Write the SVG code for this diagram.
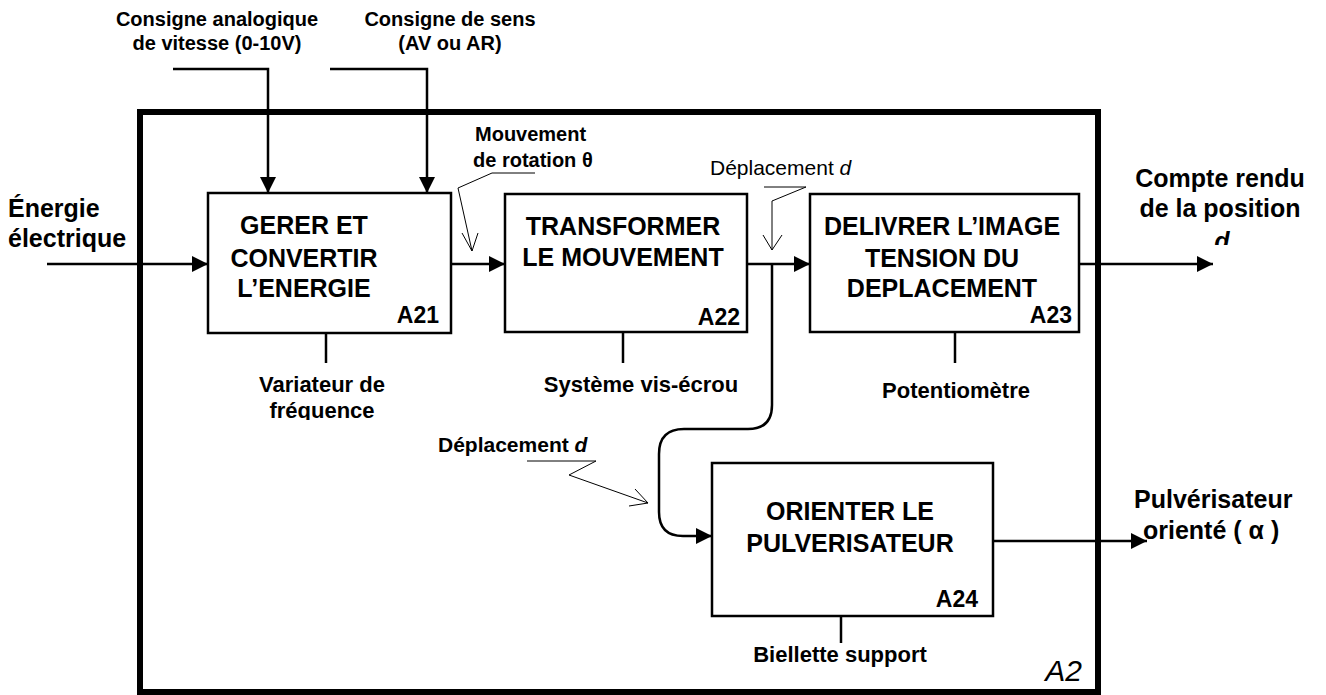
<svg xmlns="http://www.w3.org/2000/svg" width="1326" height="695" viewBox="0 0 1326 695">
<style>
text{font-family:"Liberation Sans",Arial,sans-serif;fill:#000}
.b{font-weight:bold}
.t{font-weight:bold;font-size:25px;text-anchor:middle}
.code{font-weight:bold;font-size:23px;text-anchor:end}
.lab{font-weight:bold;font-size:20px}
.big{font-weight:bold;font-size:25px}
.mech{font-weight:bold;font-size:22px;text-anchor:middle}
.box{fill:#fff;stroke:#000;stroke-width:2.5}
.con{fill:none;stroke:#000;stroke-width:2.5}
.lead{fill:none;stroke:#000;stroke-width:1}
.frame{fill:none;stroke:#000;stroke-width:6}
</style>
<defs>
<marker id="ah" markerUnits="userSpaceOnUse" markerWidth="17" markerHeight="16" refX="16" refY="8" orient="auto">
<path d="M0,0 L16,8 L0,16 z" fill="#000"/>
</marker>
<clipPath id="clipF"><rect x="0" y="0" width="1326" height="420"/></clipPath>
<clipPath id="clipD"><rect x="0" y="0" width="1326" height="245"/></clipPath>
</defs>
<rect width="1326" height="695" fill="#fff"/>
<rect class="frame" x="140" y="112" width="958" height="580"/>
<g id="connectors">
<path class="con" d="M47,264 H208" marker-end="url(#ah)"/>
<path class="con" d="M173,69 H268 V193" marker-end="url(#ah)"/>
<path class="con" d="M330,69 H427 V193" marker-end="url(#ah)"/>
<path class="con" d="M451,264 H505" marker-end="url(#ah)"/>
<path class="con" d="M747,264 H810" marker-end="url(#ah)"/>
<path class="con" d="M772,264 V405 Q772,429 748,429 H684 Q659,429 659,454 V512 Q659,536 683,536 H712" marker-end="url(#ah)"/>
<path class="con" d="M1079,264 H1213" marker-end="url(#ah)"/>
<path class="con" d="M993,541 H1147" marker-end="url(#ah)"/>
<path class="con" d="M326,333 V363"/>
<path class="con" d="M623,332 V363"/>
<path class="con" d="M955,332 V363"/>
<path class="con" d="M841,616 V643"/>
<polyline class="lead" points="535,173 492,173 458,188 472,251"/>
<polyline class="lead" points="462,233 472,251 478,233"/>
<polyline class="lead" points="764,187 806,187 772,201 772,250"/>
<polyline class="lead" points="763,235 772,250 782,235"/>
<polyline class="lead" points="527,461 596,461 569,475 648,503"/>
<polyline class="lead" points="635,489 648,503 629,506"/>
</g>
<g id="A21">
<rect class="box" x="208" y="193" width="243" height="140"/>
<text class="t" x="304" y="234">GERER ET</text>
<text class="t" x="304" y="267">CONVERTIR</text>
<text class="t" x="304" y="297">L’ENERGIE</text>
<text class="code" x="439" y="323">A21</text>
</g>
<g id="A22">
<rect class="box" x="505" y="194" width="242" height="138"/>
<text class="t" x="623" y="235">TRANSFORMER</text>
<text class="t" x="623" y="266">LE MOUVEMENT</text>
<text class="code" x="740" y="325">A22</text>
</g>
<g id="A23">
<rect class="box" x="810" y="194" width="269" height="138"/>
<text class="t" x="942" y="235">DELIVRER L’IMAGE</text>
<text class="t" x="942" y="267">TENSION DU</text>
<text class="t" x="942" y="297">DEPLACEMENT</text>
<text class="code" x="1072" y="323">A23</text>
</g>
<g id="A24">
<rect class="box" x="712" y="463" width="281" height="153"/>
<text class="t" x="850" y="520">ORIENTER LE</text>
<text class="t" x="850" y="552">PULVERISATEUR</text>
<text class="code" x="978" y="607">A24</text>
</g>
<g id="labels">
<text class="lab" x="217" y="26" text-anchor="middle">Consigne analogique</text>
<text class="lab" x="217" y="50" text-anchor="middle">de vitesse (0-10V)</text>
<text class="lab" x="450" y="26" text-anchor="middle">Consigne de sens</text>
<text class="lab" x="450" y="50" text-anchor="middle">(AV ou AR)</text>
<text class="big" x="8" y="217">Énergie</text>
<text class="big" x="8" y="247">électrique</text>
<text class="lab" x="475" y="141">Mouvement</text>
<text class="lab" x="473" y="167">de rotation θ</text>
<text x="710" y="175" font-size="21">Déplacement <tspan font-style="italic">d</tspan></text>
<text class="b" x="438" y="452" font-size="21">Déplacement <tspan font-style="italic">d</tspan></text>
<text class="big" x="1220" y="187" text-anchor="middle">Compte rendu</text>
<text class="big" x="1220" y="217" text-anchor="middle">de la position</text>
<text class="big" x="1222" y="250" text-anchor="middle" font-style="italic" clip-path="url(#clipD)">d</text>
<text class="big" x="1134" y="508">Pulvérisateur</text>
<text class="big" x="1143" y="539">orienté ( α )</text>
<text class="mech" x="322" y="392">Variateur de</text>
<text class="mech" x="322" y="418" clip-path="url(#clipF)">fréquence</text>
<text class="mech" x="641" y="392">Système vis-écrou</text>
<text class="mech" x="956" y="398">Potentiomètre</text>
<text class="mech" x="840" y="662">Biellette support</text>
<text x="1082" y="681" font-size="30" font-style="italic" text-anchor="end">A2</text>
</g>
</svg>
